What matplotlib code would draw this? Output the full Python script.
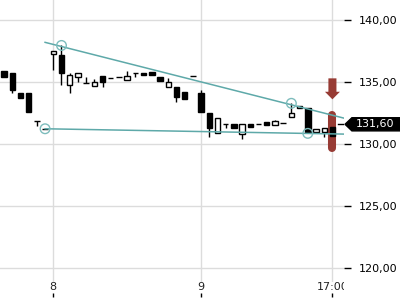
import numpy as np
import matplotlib
matplotlib.use("Agg")
import matplotlib.pyplot as plt
from matplotlib.patches import Polygon

# half-hour candles, index 0..40
opens = [135.92, 135.71, 134.10, 134.15, 131.87, 131.24, 137.24, 137.18, 134.76, 135.43,
         134.95, 134.68, 135.49, 135.35, 135.43, 135.17, 135.76, 135.76, 135.81, 135.38,
         134.63, 134.58, 134.20, 135.49, 134.10, 132.48, 130.87, 131.60, 131.62, 130.82,
         131.62, 131.62, 131.78, 131.54, 131.70, 132.16, 132.91, 132.89, 130.98, 130.95,
         131.36]
highs = [135.92, 135.71, 134.10, 134.15, 131.87, 131.24, 137.53, 137.99, 135.71, 135.71,
         135.38, 135.22, 135.49, 135.35, 135.43, 135.92, 135.76, 135.76, 135.81, 135.38,
         135.30, 134.58, 134.20, 135.49, 134.36, 132.48, 132.13, 131.60, 131.62, 131.62,
         131.62, 131.62, 131.78, 131.95, 131.70, 133.29, 133.07, 132.89, 131.20, 131.28,
         131.36]
lows = [135.43, 134.10, 133.69, 132.61, 131.45, 131.24, 135.97, 134.76, 134.10, 135.03,
        134.95, 134.68, 134.63, 135.35, 135.43, 135.17, 135.43, 135.55, 135.55, 135.11,
        134.63, 133.42, 133.61, 135.49, 132.61, 130.60, 130.87, 131.28, 131.28, 130.39,
        131.36, 131.62, 131.54, 131.54, 131.70, 132.16, 132.91, 130.87, 130.98, 130.60,
        130.68]
closes = [135.43, 134.36, 133.69, 132.61, 131.87, 131.24, 137.53, 135.71, 135.57, 135.71,
          134.95, 135.03, 135.03, 135.35, 135.43, 135.51, 135.76, 135.55, 135.55, 135.11,
          134.98, 133.82, 133.61, 135.49, 132.61, 131.28, 132.13, 131.60, 131.28, 131.62,
          131.36, 131.62, 131.54, 131.86, 131.70, 132.48, 133.07, 131.00, 131.20, 131.28,
          130.68]

xtick_pos = [6, 24, 40]
xtick_labels = ["8", "9", "17:00"]
yticks = [120, 125, 130, 135, 140]

# trend lines (start/end) and the touch points
upper_x = [5, 41.5]
upper_y = [138.20, 132.08]
lower_x = [5, 41.5]
lower_y = [131.24, 130.81]
touch_x = [7, 5, 35, 37]
touch_y = [137.95, 131.24, 133.29, 130.87]

last_price = 131.60

teal = "#5ea9a9"
red = "#973b34"

fig = plt.figure(figsize=(4, 3), dpi=100)
ax = fig.add_axes([0, 18 / 300, 344 / 400, 282 / 300])
ax.set_xlim(-0.49, 41.41)
ax.set_ylim(118.9, 141.61)
for s in ax.spines.values():
    s.set_visible(False)

ax.set_xticks(xtick_pos)
ax.set_yticks(yticks)
ax.grid(True, color="#dcdcdc", linewidth=1)
ax.set_axisbelow(True)
ax.tick_params(axis="x", length=0, labelbottom=False)
ax.yaxis.tick_right()
ax.tick_params(axis="y", length=5, width=1, pad=6, labelsize=8, colors="black")
ax.set_yticklabels([("%.2f" % v).replace(".", ",") for v in yticks])

# red marker around the last candle
n = len(opens)
ax.plot([n - 1, n - 1], [129.71, 132.37], color=red, lw=5.8, solid_capstyle="round", zorder=2)
arrow = Polygon([(n - 1 - 0.49, 135.30), (n - 1 + 0.49, 135.30), (n - 1 + 0.49, 134.22),
                 (n - 1 + 0.91, 134.22), (n - 1, 133.61), (n - 1 - 0.91, 134.22),
                 (n - 1 - 0.49, 134.22)], closed=True, color=red, lw=0, zorder=2)
ax.add_patch(arrow)

# candles
idx = np.arange(n)
o = np.array(opens)
c = np.array(closes)
ax.vlines(idx, lows, highs, color="black", lw=1, zorder=3)
bottom = np.minimum(o, c)
height = np.abs(c - o)
faces = ["black" if cl < op else "white" for op, cl in zip(o, c)]
ax.bar(idx, height, bottom=bottom, width=0.66, color=faces, edgecolor="black",
       linewidth=1, zorder=4)

# trend lines
ax.plot(upper_x, upper_y, color=teal, lw=1.1, zorder=5)
ax.plot(lower_x, lower_y, color=teal, lw=1.1, zorder=5)
ax.scatter(touch_x, touch_y, s=48, facecolors="none", edgecolors="#7dbcbc", linewidths=1, zorder=6)

# last price tag
tr = ax.get_yaxis_transform()
ax.plot([0.983, 0.997], [last_price, last_price], color="black", lw=1, transform=tr, clip_on=False)
tag = Polygon([(1.003, last_price), (1.023, last_price + 0.53), (1.165, last_price + 0.53),
               (1.165, last_price - 0.53), (1.023, last_price - 0.53)], closed=True,
              color="black", transform=tr, clip_on=False, zorder=7)
ax.add_patch(tag)
ax.text(1.089, last_price, ("%.2f" % last_price).replace(".", ","), color="white",
        fontsize=8, ha="center", va="center", transform=tr, zorder=8)

# bottom strip with time labels (ticks sit below the labels)
ax2 = fig.add_axes([0, 0, 344 / 400, 18 / 300])
ax2.set_xlim(ax.get_xlim())
ax2.set_ylim(0, 18)
ax2.axis("off")
ax2.vlines(xtick_pos, 3, 7, color="black", lw=1)
for xp, lab in zip(xtick_pos, xtick_labels):
    t = ax2.text(xp, 12.5, lab, fontsize=8, ha="center", va="center", color="#222222")
    t.set_clip_on(True)
    t.set_clip_box(ax2.bbox)

fig.savefig("out.png", dpi=100)
